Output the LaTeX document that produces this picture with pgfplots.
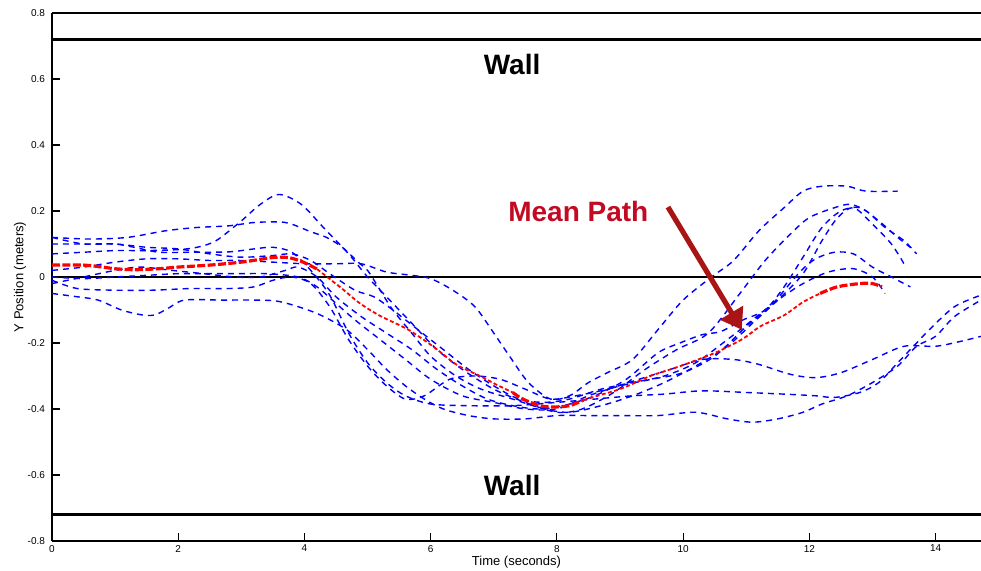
\documentclass[border=0pt]{standalone}
\usepackage{fontspec}
\setmainfont{Liberation Sans}
\usepackage{pgfplots}
\pgfplotsset{compat=1.18}
\usetikzlibrary{arrows.meta}

\definecolor{arrowred}{RGB}{170,20,20}
\definecolor{labelred}{RGB}{195,10,35}

\pgfplotsset{
  trial/.style={blue, line width=0.7pt, dash pattern=on 3pt off 2.5pt, smooth, mark=none},
  meanthick/.style={red, line width=1.6pt, dash pattern=on 4pt off 1.2pt, smooth, mark=none},
  meanthin/.style={red, line width=0.9pt, dash pattern=on 2pt off 1.2pt, smooth, mark=none},
}

\begin{document}
\begin{tikzpicture}
\begin{axis}[
  name=ax,
  width=464.5pt, height=264pt,
  scale only axis,
  xmin=0, xmax=14.72,
  ymin=-0.8, ymax=0.8,
  axis lines*=left,
  axis line style={line width=0.8pt},
  tick align=inside,
  major tick length=4pt,
  tick style={black, line width=0.6pt},
  xtick={0,2,4,6,8,10,12,14},
  ytick={-0.8,-0.6,-0.4,-0.2,0,0.2,0.4,0.6,0.8},
  ticklabel style={font=\fontsize{5}{6}\selectfont},
  xticklabel style={yshift=1.5pt},
  /pgf/number format/assume math mode=true,
  xlabel={Time (seconds)},
  ylabel={Y Position (meters)},
  label style={font=\fontsize{6.5}{7}\selectfont},
  xlabel style={yshift=5pt},
  ylabel style={yshift=-6pt},
  clip mode=individual,
]
% walls and centre line
\addplot[black, line width=1.5pt] coordinates {(0,0.72) (14.72,0.72)};
\addplot[black, line width=1.5pt] coordinates {(0,-0.72) (14.72,-0.72)};
\addplot[black, line width=0.75pt] coordinates {(0,0) (14.72,0)};

% individual trials
\addplot[trial] coordinates {
(0,0.02) (0.5,0.03) (1.0,0.045) (1.5,0.055) (2.0,0.055) (2.5,0.05) (3.0,0.05) (3.5,0.045)
(4.0,0.04) (4.5,0.04) (4.9,0.04) (5.3,0.015) (5.7,0.005) (6.0,-0.005) (6.35,-0.04) (6.7,-0.09)
(7.0,-0.17) (7.25,-0.24) (7.55,-0.32) (7.9,-0.37) (8.2,-0.36) (8.5,-0.32) (8.8,-0.29) (9.2,-0.25)
(9.6,-0.16) (10.0,-0.07) (10.45,0.0) (10.8,0.05) (11.2,0.14) (11.6,0.21) (11.9,0.26) (12.2,0.275)
(12.6,0.275) (12.9,0.26) (13.4,0.26)};
\addplot[trial] coordinates {
(0,0.07) (0.5,0.075) (1.0,0.08) (1.5,0.08) (2.0,0.083) (2.3,0.09) (2.6,0.11) (3.0,0.17)
(3.3,0.22) (3.6,0.25) (3.95,0.22) (4.3,0.15) (4.7,0.07) (5.0,0.0) (5.3,-0.06) (5.7,-0.14)
(6.1,-0.22) (6.5,-0.28) (7.0,-0.34) (7.5,-0.38) (8.0,-0.41) (8.4,-0.40) (8.9,-0.35) (9.4,-0.28)
(9.9,-0.22) (10.4,-0.17) (10.9,-0.05) (11.3,0.05) (11.7,0.13) (12.0,0.18) (12.4,0.21) (12.65,0.22)
(12.9,0.20) (13.2,0.15) (13.5,0.11) (13.7,0.07)};
\addplot[trial] coordinates {
(0,0.12) (0.6,0.115) (1.2,0.12) (1.8,0.14) (2.3,0.15) (2.8,0.155) (3.2,0.165) (3.6,0.167)
(3.8,0.16) (4.1,0.137) (4.35,0.12) (4.6,0.09) (4.85,0.045) (5.0,0.02) (5.2,-0.04) (5.4,-0.10)
(5.7,-0.17) (6.0,-0.24) (6.4,-0.30) (6.8,-0.34) (7.3,-0.37) (7.8,-0.40) (8.2,-0.41) (8.7,-0.39)
(9.2,-0.36) (9.7,-0.32) (10.2,-0.27) (10.7,-0.21) (11.1,-0.14) (11.5,-0.07) (11.9,0.01) (12.2,0.11)
(12.45,0.18) (12.7,0.21) (13.0,0.16) (13.3,0.10) (13.5,0.04)};
\addplot[trial] coordinates {
(0,0.10) (0.6,0.10) (1.0,0.10) (1.3,0.09) (1.7,0.075) (2.2,0.075) (2.8,0.076) (3.2,0.085)
(3.5,0.09) (3.8,0.075) (4.1,0.02) (4.4,-0.055) (4.7,-0.17) (5.0,-0.26) (5.3,-0.32) (5.6,-0.36)
(6.0,-0.385) (6.6,-0.39) (7.3,-0.39) (8.0,-0.38) (8.6,-0.37) (9.2,-0.36) (9.7,-0.355) (10.3,-0.345)
(11.0,-0.35) (11.6,-0.355) (12.1,-0.36) (12.4,-0.365) (12.8,-0.35) (13.1,-0.32) (13.4,-0.26)
(13.7,-0.2) (13.9,-0.16) (14.3,-0.09) (14.72,-0.055)};
\addplot[trial] coordinates {
(0,-0.05) (0.4,-0.06) (0.73,-0.07) (1.1,-0.10) (1.43,-0.115) (1.63,-0.115) (1.84,-0.095) (2.1,-0.07)
(2.7,-0.07) (3.2,-0.07) (3.56,-0.073) (3.9,-0.09) (4.25,-0.115) (4.67,-0.16) (5.0,-0.22) (5.3,-0.28)
(5.6,-0.33) (5.9,-0.37) (6.2,-0.40) (6.6,-0.42) (7.0,-0.43) (7.5,-0.43) (8.0,-0.42) (8.5,-0.42)
(9.0,-0.42) (9.6,-0.42) (10.2,-0.41) (10.7,-0.43) (11.1,-0.44) (11.5,-0.43) (11.9,-0.41) (12.2,-0.385)
(12.6,-0.36) (13.0,-0.32) (13.4,-0.27) (13.7,-0.21) (14.0,-0.18) (14.3,-0.12) (14.72,-0.07)};
\addplot[trial] coordinates {
(0,-0.01) (0.4,-0.035) (1.0,-0.04) (1.6,-0.04) (2.2,-0.035) (2.8,-0.035) (3.2,-0.03) (3.5,-0.01)
(3.8,0.0) (4.1,-0.02) (4.4,-0.09) (4.7,-0.19) (5.0,-0.27) (5.3,-0.33) (5.6,-0.37) (5.9,-0.36)
(6.3,-0.31) (6.7,-0.30) (7.1,-0.31) (7.5,-0.34) (7.9,-0.37) (8.3,-0.36) (8.8,-0.34) (9.3,-0.31)
(9.8,-0.28) (10.3,-0.25) (10.8,-0.25) (11.2,-0.265) (11.7,-0.295) (12.1,-0.305) (12.5,-0.29)
(13.0,-0.25) (13.5,-0.21) (14.0,-0.21) (14.4,-0.195) (14.72,-0.18)};
\addplot[trial] coordinates {
(0,0.0) (0.5,-0.005) (1.0,0.0) (1.5,0.005) (2.0,0.01) (2.5,0.01) (3.0,0.01) (3.4,0.01)
(3.9,0.0) (4.2,-0.03) (4.5,-0.08) (4.8,-0.13) (5.2,-0.19) (5.6,-0.25) (6.0,-0.31) (6.5,-0.36)
(7.0,-0.38) (7.5,-0.40) (8.0,-0.40) (8.5,-0.36) (9.0,-0.33) (9.5,-0.31) (10.0,-0.29) (10.5,-0.24)
(11.0,-0.15) (11.4,-0.085) (11.85,0.015) (12.1,0.055) (12.4,0.075) (12.7,0.07) (13.0,0.03)
(13.3,0.0) (13.6,-0.03)};
\addplot[trial] coordinates {
(0,0.12) (0.5,0.10) (1.0,0.10) (1.5,0.09) (2.0,0.085) (2.5,0.07) (3.0,0.06) (3.5,0.065)
(3.8,0.07) (4.1,0.05) (4.4,0.01) (4.8,-0.04) (5.1,-0.06) (5.4,-0.10) (5.8,-0.16) (6.2,-0.22)
(6.6,-0.28) (7.0,-0.33) (7.4,-0.37) (7.8,-0.38) (8.2,-0.37) (8.7,-0.34) (9.2,-0.32) (9.7,-0.30)
(10.2,-0.26) (10.7,-0.19) (11.1,-0.13) (11.5,-0.07) (11.9,-0.02) (12.3,0.015) (12.7,0.025)
(13.0,0.0) (13.2,-0.05)};
\addplot[trial] coordinates {
(0,-0.02) (0.5,0.0) (1.0,0.02) (1.4,0.03) (1.9,0.02) (2.4,0.01) (2.9,0.0) (3.3,0.0)
(3.7,0.02) (3.9,0.03) (4.2,0.0) (4.5,-0.06) (4.9,-0.12) (5.3,-0.17) (5.7,-0.22) (6.1,-0.28)
(6.5,-0.33) (6.9,-0.37) (7.3,-0.39) (7.7,-0.40) (8.1,-0.39) (8.6,-0.36) (9.1,-0.31) (9.6,-0.23)
(9.95,-0.2) (10.3,-0.175) (10.6,-0.165) (10.95,-0.13) (11.3,-0.10) (11.6,-0.03) (11.9,0.06)
(12.2,0.15) (12.5,0.2) (12.8,0.21) (13.1,0.17) (13.4,0.12) (13.6,0.09)};

% mean path
\addplot[meanthick] coordinates {
(0,0.036) (0.5,0.036) (0.8,0.03) (1.0,0.025) (1.3,0.022) (1.7,0.025) (2.0,0.03) (2.5,0.036)
(3.0,0.045) (3.35,0.055) (3.56,0.06) (3.77,0.058) (3.98,0.045) (4.2,0.024)};
\addplot[meanthin] coordinates {
(4.2,0.024) (4.36,0.0) (4.6,-0.036) (4.88,-0.08) (5.2,-0.118) (5.62,-0.157) (5.94,-0.197)
(6.15,-0.227) (6.42,-0.267) (6.78,-0.30) (7.05,-0.327) (7.3,-0.35)};
\addplot[meanthick] coordinates {
(7.3,-0.35) (7.46,-0.37) (7.73,-0.39) (7.94,-0.394) (8.2,-0.39) (8.42,-0.373)};
\addplot[meanthin] coordinates {
(8.42,-0.373) (8.68,-0.358) (8.95,-0.343) (9.2,-0.324) (9.48,-0.30) (9.8,-0.28) (10.1,-0.26)
(10.54,-0.227) (10.95,-0.187) (11.22,-0.15) (11.6,-0.116) (11.9,-0.076) (12.17,-0.05)};
\addplot[meanthick] coordinates {
(12.17,-0.05) (12.44,-0.03) (12.8,-0.02) (13.0,-0.02) (13.15,-0.03)};

% annotations
\node[font=\fontsize{14}{16}\selectfont\bfseries] at (axis cs:7.29,0.645) {Wall};
\node[font=\fontsize{14}{16}\selectfont\bfseries] at (axis cs:7.29,-0.633) {Wall};
\node[font=\fontsize{14}{16}\selectfont\bfseries, text=labelred] at (axis cs:8.34,0.197) {Mean Path};
\draw[arrowred, line width=2.6pt, -{Triangle[length=10pt, width=13pt]}]
  (axis cs:9.76,0.212) -- (axis cs:10.93,-0.16);
\end{axis}
\draw[line width=0.8pt] (ax.north west) -- (ax.north east);
\pgfresetboundingbox
\path (ax.south west) ++(-26pt,-15pt) coordinate (bl);
\path (ax.north east) ++(0pt,6.5pt) coordinate (tr);
\useasboundingbox (bl) rectangle (tr);
\end{tikzpicture}
\end{document}
